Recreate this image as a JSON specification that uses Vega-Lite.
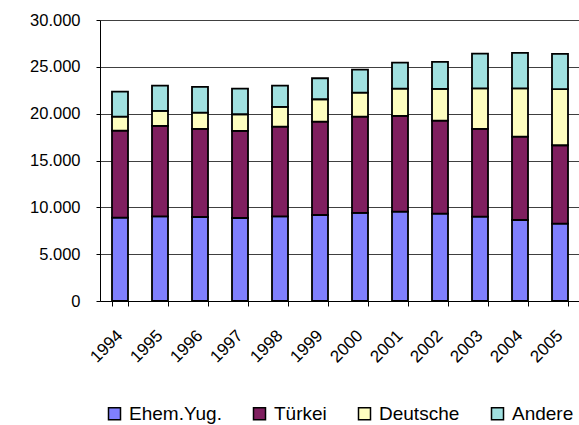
{
  "$schema": "https://vega.github.io/schema/vega-lite/v6.json",
  "width": 480,
  "height": 281,
  "autosize": {"type": "none"},
  "padding": {"left": 100, "top": 20, "right": 0, "bottom": 124},
  "background": "white",
  "config": {"view": {"stroke": null}, "font": "Liberation Sans"},
  "data": {"values": [
    {"Jahr": "1994", "Gruppe": "Ehem.Yug.", "Wert": 8900},
    {"Jahr": "1994", "Gruppe": "Türkei", "Wert": 9290},
    {"Jahr": "1994", "Gruppe": "Deutsche", "Wert": 1500},
    {"Jahr": "1994", "Gruppe": "Andere", "Wert": 2670},
    {"Jahr": "1995", "Gruppe": "Ehem.Yug.", "Wert": 9040},
    {"Jahr": "1995", "Gruppe": "Türkei", "Wert": 9650},
    {"Jahr": "1995", "Gruppe": "Deutsche", "Wert": 1600},
    {"Jahr": "1995", "Gruppe": "Andere", "Wert": 2710},
    {"Jahr": "1996", "Gruppe": "Ehem.Yug.", "Wert": 8970},
    {"Jahr": "1996", "Gruppe": "Türkei", "Wert": 9400},
    {"Jahr": "1996", "Gruppe": "Deutsche", "Wert": 1740},
    {"Jahr": "1996", "Gruppe": "Andere", "Wert": 2750},
    {"Jahr": "1997", "Gruppe": "Ehem.Yug.", "Wert": 8860},
    {"Jahr": "1997", "Gruppe": "Türkei", "Wert": 9300},
    {"Jahr": "1997", "Gruppe": "Deutsche", "Wert": 1780},
    {"Jahr": "1997", "Gruppe": "Andere", "Wert": 2740},
    {"Jahr": "1998", "Gruppe": "Ehem.Yug.", "Wert": 9040},
    {"Jahr": "1998", "Gruppe": "Türkei", "Wert": 9580},
    {"Jahr": "1998", "Gruppe": "Deutsche", "Wert": 2100},
    {"Jahr": "1998", "Gruppe": "Andere", "Wert": 2280},
    {"Jahr": "1999", "Gruppe": "Ehem.Yug.", "Wert": 9180},
    {"Jahr": "1999", "Gruppe": "Türkei", "Wert": 9970},
    {"Jahr": "1999", "Gruppe": "Deutsche", "Wert": 2390},
    {"Jahr": "1999", "Gruppe": "Andere", "Wert": 2240},
    {"Jahr": "2000", "Gruppe": "Ehem.Yug.", "Wert": 9400},
    {"Jahr": "2000", "Gruppe": "Türkei", "Wert": 10290},
    {"Jahr": "2000", "Gruppe": "Deutsche", "Wert": 2560},
    {"Jahr": "2000", "Gruppe": "Andere", "Wert": 2460},
    {"Jahr": "2001", "Gruppe": "Ehem.Yug.", "Wert": 9540},
    {"Jahr": "2001", "Gruppe": "Türkei", "Wert": 10220},
    {"Jahr": "2001", "Gruppe": "Deutsche", "Wert": 2920},
    {"Jahr": "2001", "Gruppe": "Andere", "Wert": 2770},
    {"Jahr": "2002", "Gruppe": "Ehem.Yug.", "Wert": 9330},
    {"Jahr": "2002", "Gruppe": "Türkei", "Wert": 9930},
    {"Jahr": "2002", "Gruppe": "Deutsche", "Wert": 3380},
    {"Jahr": "2002", "Gruppe": "Andere", "Wert": 2890},
    {"Jahr": "2003", "Gruppe": "Ehem.Yug.", "Wert": 9010},
    {"Jahr": "2003", "Gruppe": "Türkei", "Wert": 9360},
    {"Jahr": "2003", "Gruppe": "Deutsche", "Wert": 4340},
    {"Jahr": "2003", "Gruppe": "Andere", "Wert": 3710},
    {"Jahr": "2004", "Gruppe": "Ehem.Yug.", "Wert": 8650},
    {"Jahr": "2004", "Gruppe": "Türkei", "Wert": 8900},
    {"Jahr": "2004", "Gruppe": "Deutsche", "Wert": 5160},
    {"Jahr": "2004", "Gruppe": "Andere", "Wert": 3780},
    {"Jahr": "2005", "Gruppe": "Ehem.Yug.", "Wert": 8260},
    {"Jahr": "2005", "Gruppe": "Türkei", "Wert": 8370},
    {"Jahr": "2005", "Gruppe": "Deutsche", "Wert": 5980},
    {"Jahr": "2005", "Gruppe": "Andere", "Wert": 3770}
  ]},
  "transform": [
    {"calculate": "indexof(['Ehem.Yug.','Türkei','Deutsche','Andere'], datum.Gruppe)", "as": "ord"}
  ],
  "mark": {"type": "bar", "stroke": "black", "strokeWidth": 1.8},
  "encoding": {
    "x": {
      "field": "Jahr", "type": "ordinal",
      "scale": {"paddingInner": 0.6, "paddingOuter": 0.3},
      "axis": {
        "title": null, "labelAngle": -45, "labelFontSize": 17, "labelColor": "black",
        "domainColor": "black", "tickColor": "black", "tickSize": 5, "tickBand": "extent",
        "labelPadding": 21, "labelOffset": -6, "grid": false
      }
    },
    "y": {
      "field": "Wert", "type": "quantitative", "stack": "zero",
      "scale": {"domain": [0, 30000]},
      "axis": {
        "title": null, "values": [0, 5000, 10000, 15000, 20000, 25000, 30000],
        "labelExpr": "replace(format(datum.value, ','), ',', '.')",
        "labelFontSize": 16.5, "labelColor": "black",
        "domainColor": "black", "tickColor": "black", "tickSize": 4, "labelPadding": 16,
        "gridColor": "#404040", "gridWidth": 1
      }
    },
    "color": {
      "field": "Gruppe", "type": "nominal",
      "scale": {
        "domain": ["Ehem.Yug.", "Türkei", "Deutsche", "Andere"],
        "range": ["#8080ff", "#7f1f5f", "#ffffc0", "#a0e0e0"]
      },
      "legend": {
        "orient": "none", "legendX": 5, "legendY": 384, "direction": "horizontal",
        "title": null, "symbolType": "square", "symbolSize": 144,
        "symbolStrokeColor": "black", "symbolStrokeWidth": 1.5,
        "labelFontSize": 19, "labelColor": "black", "columnPadding": 28,
        "labelOffset": 5, "padding": 0
      }
    },
    "order": {"field": "ord", "type": "quantitative"}
  }
}
